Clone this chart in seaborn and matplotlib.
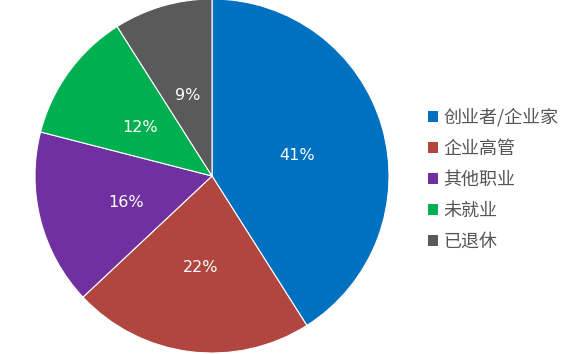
import matplotlib
matplotlib.use("Agg")
import matplotlib.pyplot as plt
import seaborn as sns
from matplotlib.patches import Patch

categories = ["创业者/企业家", "企业高管", "其他职业", "未就业", "已退休"]
values = [41, 22, 16, 12, 9]
colors = ["#0070C0", "#B0463F", "#7030A0", "#00B050", "#5A5A5A"]

sns.set_theme(style="white")
plt.rcParams['font.family'] = ['Noto Sans CJK SC', 'DejaVu Sans']

W, H = 575, 354
fig = plt.figure(figsize=(W / 100, H / 100), dpi=100)
cx, cy, r = 212, 176, 177
ax = fig.add_axes([(cx - r) / W, (H - cy - r) / H, 2 * r / W, 2 * r / H])

wedges, texts, autotexts = ax.pie(
    values, colors=colors, startangle=90, counterclock=False,
    autopct=lambda p: f"{p:.0f}%", pctdistance=0.5, radius=1,
    wedgeprops=dict(edgecolor="white", linewidth=0.8),
    textprops=dict(color="white", fontsize=11.5, family=['DejaVu Sans']))
for t in autotexts:
    x, y = t.get_position()
    t.set_position((x, y - 4 / r))
ax.set_xlim(-1, 1)
ax.set_ylim(-1, 1)
ax.set_aspect("equal")
ax.axis("off")

handles = [Patch(facecolor=c, edgecolor="none") for c in colors]
leg = fig.legend(handles, categories, loc="upper left",
                 bbox_to_anchor=(412 / W, 1 - 92 / H), frameon=False,
                 fontsize=13, handlelength=0.55, handleheight=0.55,
                 handletextpad=0.3, labelspacing=0.72, labelcolor="#555555")

fig.savefig("out.png", dpi=100)
